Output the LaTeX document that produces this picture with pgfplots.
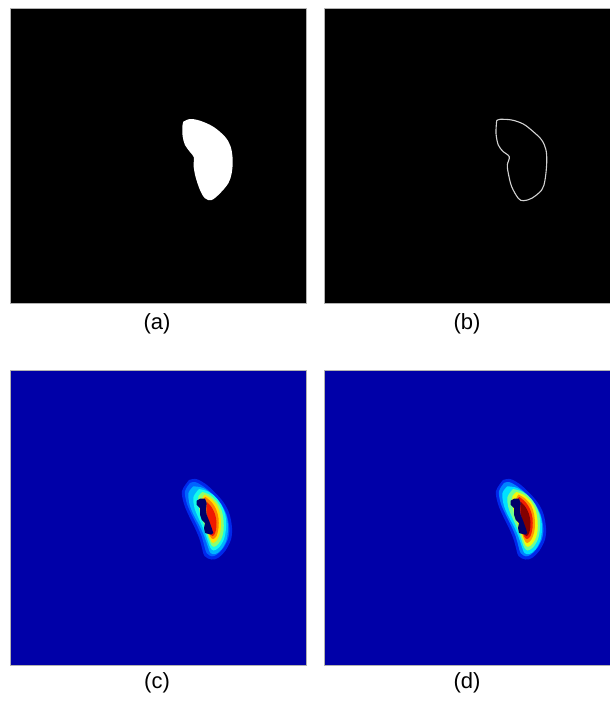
\documentclass[border=0pt]{standalone}
\usepackage{fontspec}
\setmainfont{Liberation Sans}
\usepackage{pgfplots}
\usepackage{pgfplotstable}
\pgfplotsset{compat=1.18}

\definecolor{bgblue}{RGB}{0,0,168}
\definecolor{holec}{RGB}{0,0,105}
\definecolor{cm}{RGB}{0,40,235}
\definecolor{ca}{RGB}{0,100,255}
\definecolor{cb}{RGB}{0,180,255}
\definecolor{cc}{RGB}{20,250,235}
\definecolor{cd}{RGB}{140,255,110}
\definecolor{ce}{RGB}{255,225,0}
\definecolor{cf}{RGB}{255,130,0}
\definecolor{cg}{RGB}{240,25,0}
\definecolor{dm}{RGB}{0,40,235}
\definecolor{da}{RGB}{0,130,255}
\definecolor{db}{RGB}{0,225,255}
\definecolor{dc}{RGB}{110,255,145}
\definecolor{dd}{RGB}{240,250,10}
\definecolor{de}{RGB}{255,150,0}
\definecolor{df}{RGB}{240,30,0}
\definecolor{dg}{RGB}{130,0,0}

% panel (a): filled region (image pixel coordinates)
\pgfplotstableread{
x y
183.3 121.7
190 119
200 120.7
213.3 126.7
225 136.7
230.7 146.7
232.7 160
231.7 173.3
228.3 183.3
220 193.3
211.7 200
205 198.3
200 190
195.5 176.7
193.5 165
194 157.5
190 152
185 145
182.7 136.7
182.3 126.7
183.3 121.7
}\blobA

% panel (b): contour
\pgfplotstableread{
x y
496.7 120.7
500 119.3
511.7 120
523.3 124
533.3 131.7
541.7 140
546 150
546.7 163.3
545 180
541.7 190
531.7 198.3
523.3 200.7
518.3 198.3
511.7 186.7
508.3 173.3
507.3 165
509.3 156.7
503.3 151.7
498.3 145
496 133.3
496.7 120.7
}\contB

% panels (c),(d): nested level regions
\pgfplotstableread{
x y
189 480
196 479
205 483.5
215 492.5
224 503
229.5 514
232 528
231 539.5
225.5 550.5
218 558
211.5 559.5
204.5 556
201.5 546
199 537.5
194 526
189 516
184 504
182 491
189 480
}\Lm

\pgfplotstableread{
x y
190 483
195 482
203.3 486.3
213.3 494.7
221.7 504.7
226.7 514.7
229.3 528
228.3 538
223.3 548
216.7 554.7
211.7 556.3
206.7 553
204 544.7
201.7 536.3
196.7 524.7
191.7 514.7
186.7 503
185 491.3
190 483
}\La

\pgfplotstableread{
x y
193.3 486.3
203.3 488
213.3 495.5
221 505
226.5 516
228 528
226.5 540
221.5 549.5
215.5 554
210.5 553
207.3 545
204 535.5
199.5 525.5
193.5 514.5
189.5 504
188.5 493
193.3 486.3
}\Lb

\pgfplotstableread{
x y
199 489
208 491.5
216 497.5
222 506
225.5 516
226 528
224 539
219 547.5
213.5 550.5
210 547
207 538.5
203 528
198.5 518
194.5 508
193.5 497
199 489
}\Lc

\pgfplotstableread{
x y
202.5 492
210 495
217 501.5
221.5 510
223.5 520
223.5 531
221 540
216 546
212 546
208.5 538
205 527
200.5 515
198.5 504
198.5 496
202.5 492
}\Ld

\pgfplotstableread{
x y
204.5 494.5
211 498.5
217 505
220 514
221 524
220 533
217 540
213 543
210 539
206.5 528
203 514
201 502
204.5 494.5
}\Le

\pgfplotstableread{
x y
205.5 497
211.5 502
216 509
218.5 518
218.5 528
216.5 536
213 539
210 536
207 525
204 510
203 500
205.5 497
}\Lf

\pgfplotstableread{
x y
207 502
211.5 507
215 514
216.5 522
216 530
214 535
211 535
208 520
206.5 510
207 502
}\Lg

\pgfplotstableread{
x y
196.7 500.7
200 498.7
205 498.7
206.7 503
206 509.7
206.7 514.7
209.3 521.3
211.7 528
213.3 533
211 534.7
205 533
204 528
205 523
201.7 519.7
200 514.7
200 508
196.7 504.7
196.7 500.7
}\Hole

\pgfplotsset{
  panel/.style={scale only axis, y dir=reverse, ticks=none,
    axis line style={draw=gray!60, line width=0.3pt},
    clip=false, anchor=north west, enlargelimits=false},
  lay/.style={draw=none, mark=none, smooth, tension=0.55, fill=#1},
  hol/.style={draw=none, mark=none, fill=#1},
}

\begin{document}
\begin{tikzpicture}
\path[use as bounding box] (0pt,0pt) rectangle (305pt,-351pt);

% (a)
\begin{axis}[panel, at={(5pt,-4pt)}, width=148pt, height=147.5pt,
  xmin=10, xmax=306, ymin=8, ymax=303,
  axis background/.style={fill=black}]
  \addplot[lay=white] table {\blobA};
  \node[font=\fontsize{11}{13}\selectfont] at (axis cs:157,324) {(a)};
\end{axis}

% (b)
\begin{axis}[panel, at={(162pt,-4pt)}, width=143pt, height=147.5pt,
  xmin=324, xmax=610, ymin=8, ymax=303,
  axis background/.style={fill=black}]
  \addplot[draw=gray!35, line width=0.55pt, mark=none, smooth, tension=0.55] table {\contB};
  \node[font=\fontsize{11}{13}\selectfont] at (axis cs:467,324) {(b)};
\end{axis}

% (c)
\begin{axis}[panel, at={(5pt,-185pt)}, width=148pt, height=147.5pt,
  xmin=10, xmax=306, ymin=370, ymax=665,
  axis background/.style={fill=bgblue}]
  \addplot[lay=cm] table {\Lm};
  \addplot[lay=ca] table {\La};
  \addplot[lay=cb] table {\Lb};
  \addplot[lay=cc] table {\Lc};
  \addplot[lay=cd] table {\Ld};
  \addplot[lay=ce] table {\Le};
  \addplot[lay=cf] table {\Lf};
  \addplot[lay=cg] table {\Lg};
  \addplot[hol=holec] table {\Hole};
  \node[font=\fontsize{11}{13}\selectfont] at (axis cs:157,683) {(c)};
\end{axis}

% (d)
\begin{axis}[panel, at={(162pt,-185pt)}, width=143pt, height=147.5pt,
  xmin=10, xmax=296, ymin=370, ymax=665,
  axis background/.style={fill=bgblue}]
  \addplot[lay=dm] table {\Lm};
  \addplot[lay=da] table {\La};
  \addplot[lay=db] table {\Lb};
  \addplot[lay=dc] table {\Lc};
  \addplot[lay=dd] table {\Ld};
  \addplot[lay=de] table {\Le};
  \addplot[lay=df] table {\Lf};
  \addplot[lay=dg] table {\Lg};
  \addplot[hol=holec] table {\Hole};
  \node[font=\fontsize{11}{13}\selectfont] at (axis cs:153,683) {(d)};
\end{axis}
\end{tikzpicture}
\end{document}
